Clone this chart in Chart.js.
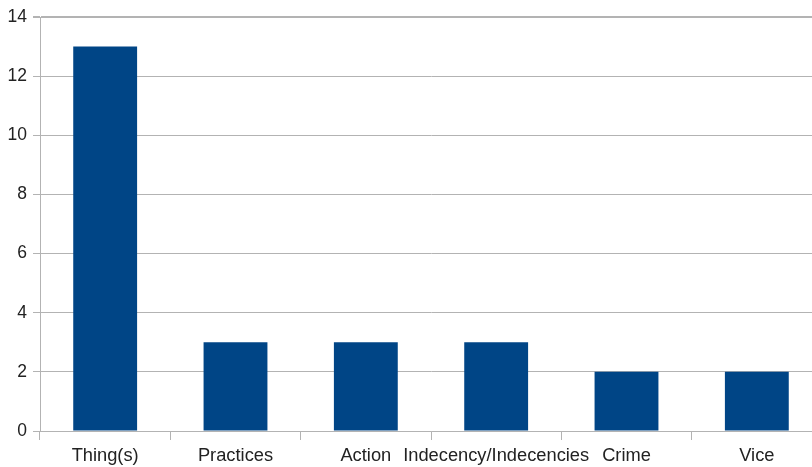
<!DOCTYPE html>
<html>
<head>
<meta charset="utf-8">
<script src="https://cdn.jsdelivr.net/npm/chart.js@4"></script>
<style>
  html, body { margin: 0; padding: 0; background: #fff; overflow: hidden; }
  #wrap { width: 822px; height: 467px; }
</style>
</head>
<body>
<div id="wrap"><canvas id="barChart"></canvas></div>
<script>
// Data
const categories = ["Thing(s)", "Practices", "Action", "Indecency/Indecencies", "Crime", "Vice"];
const counts = [13, 3, 3, 3, 2, 2];
const yTicks = [0, 2, 4, 6, 8, 10, 12, 14];

const gridColor = "#b3b3b3";
const fontFamily = "'Liberation Sans', Arial, sans-serif";

const ctx = document.getElementById("barChart").getContext("2d");

new Chart(ctx, {
  type: "bar",
  data: {
    labels: categories,
    datasets: [
      {
        label: "Count",
        data: counts,
        backgroundColor: "#004586",
        barPercentage: 0.49,
        categoryPercentage: 1,
      },
    ],
  },
  options: {
    responsive: true,
    maintainAspectRatio: false,
    animation: false,
    layout: { padding: { top: 17, right: 0, bottom: 0, left: 0 } },
    plugins: {
      legend: { display: false },
      tooltip: { enabled: false },
    },
    scales: {
      x: {
        offset: true,
        grid: {
          offset: true,
          drawOnChartArea: false,
          drawTicks: true,
          tickLength: 9,
          color: gridColor,
        },
        border: { color: gridColor },
        ticks: { color: "#222", font: { family: fontFamily, size: 18.3 }, padding: 5, maxRotation: 0, autoSkip: false },
        afterFit: (scale) => { scale.height = 36; },
      },
      y: {
        min: 0,
        max: 14,
        afterBuildTicks: (scale) => { scale.ticks = yTicks.map((v) => ({ value: v })); },
        grid: {
          color: gridColor,
          tickLength: 7,
          lineWidth: (c) => (c.tick && c.tick.value === 14 ? 2 : 1),
        },
        border: { color: gridColor },
        ticks: { color: "#222", font: { family: fontFamily, size: 17.5 }, padding: 6 },
        afterFit: (scale) => { scale.width = 40; },
      },
    },
  },
});
</script>
</body>
</html>
